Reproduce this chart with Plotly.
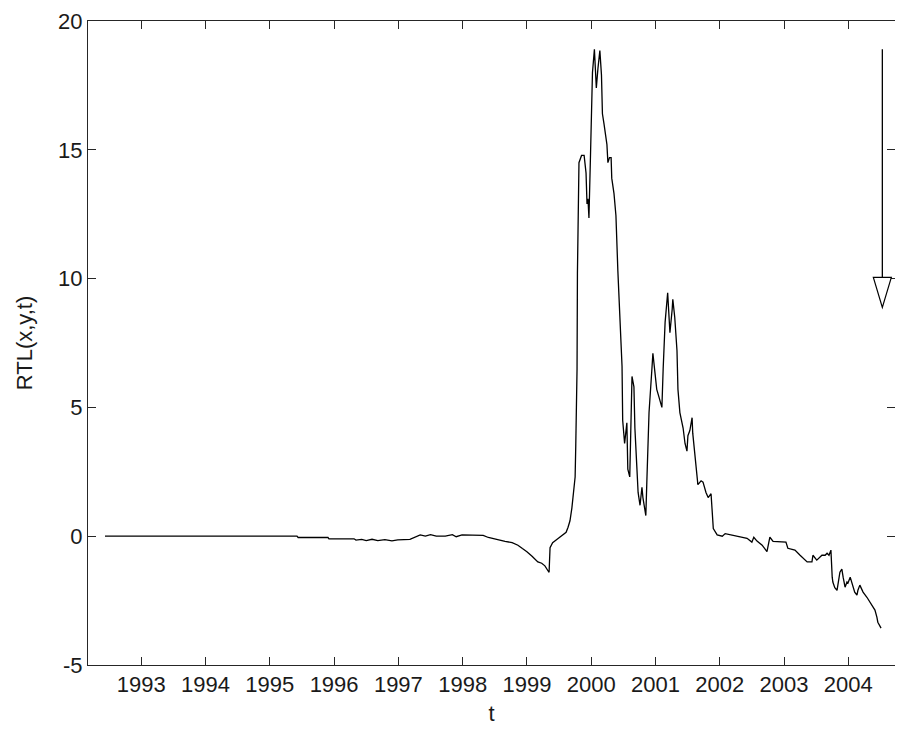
import plotly.graph_objects as go

# time (decimal years) and RTL values
t = [1992.435, 1993.916, 1995.423, 1995.44, 1995.905, 1995.92, 1996.31, 1996.34, 1996.43, 1996.50,
     1996.59, 1996.68, 1996.79, 1996.90, 1996.99, 1997.18, 1997.26, 1997.34, 1997.42, 1997.50,
     1997.59, 1997.73, 1997.84, 1997.90, 1997.99, 1998.12, 1998.32, 1998.40, 1998.51, 1998.58,
     1998.66, 1998.77, 1998.86, 1998.93, 1999.00, 1999.08, 1999.13, 1999.17, 1999.23, 1999.28,
     1999.33, 1999.345, 1999.36, 1999.40, 1999.48, 1999.56, 1999.61, 1999.64, 1999.67, 1999.70,
     1999.725, 1999.75, 1999.76, 1999.78, 1999.786, 1999.81, 1999.85, 1999.89, 1999.92, 1999.935,
     1999.95, 1999.965, 1999.99, 2000.02, 2000.05, 2000.08, 2000.105, 2000.135, 2000.16, 2000.175,
     2000.20, 2000.22, 2000.245, 2000.26, 2000.285, 2000.31, 2000.32, 2000.355, 2000.385, 2000.415,
     2000.445, 2000.48, 2000.49, 2000.52, 2000.555, 2000.57, 2000.60, 2000.635, 2000.665, 2000.68,
     2000.71, 2000.73, 2000.76, 2000.79, 2000.805, 2000.85, 2000.867, 2000.90, 2000.945, 2000.96,
     2000.99, 2001.02, 2001.055, 2001.10, 2001.12, 2001.15, 2001.19, 2001.21, 2001.225, 2001.26,
     2001.27, 2001.30, 2001.335, 2001.35, 2001.38, 2001.43, 2001.46, 2001.49, 2001.505, 2001.535,
     2001.57, 2001.58, 2001.615, 2001.645, 2001.66, 2001.71, 2001.74, 2001.786, 2001.82, 2001.865,
     2001.88, 2001.90, 2001.96, 2002.04, 2002.085, 2002.21, 2002.27, 2002.425, 2002.50, 2002.53,
     2002.58, 2002.66, 2002.735, 2002.78, 2002.83, 2002.94, 2003.03, 2003.06, 2003.17, 2003.25,
     2003.36, 2003.435, 2003.45, 2003.51, 2003.56, 2003.59, 2003.64, 2003.67, 2003.70, 2003.73,
     2003.75, 2003.76, 2003.79, 2003.825, 2003.87, 2003.90, 2003.92, 2003.95, 2003.98, 2003.995,
     2004.03, 2004.06, 2004.07, 2004.10, 2004.135, 2004.15, 2004.18, 2004.23, 2004.29, 2004.34,
     2004.38, 2004.415, 2004.445, 2004.46, 2004.51]

rtl = [0.0, 0.0, 0.0, -0.05, -0.05, -0.1, -0.1, -0.15, -0.12, -0.17,
       -0.12, -0.17, -0.13, -0.18, -0.14, -0.12, -0.02, 0.05, 0.0, 0.06,
       0.0, 0.0, 0.06, -0.02, 0.05, 0.05, 0.03, -0.05, -0.12, -0.15,
       -0.2, -0.25, -0.35, -0.48, -0.6, -0.78, -0.9, -1.0, -1.05, -1.15,
       -1.35, -1.4, -0.45, -0.25, -0.1, 0.05, 0.15, 0.35, 0.6, 1.1,
       1.6, 2.3, 3.5, 6.5, 10.2, 14.5, 14.78, 14.78, 14.1, 12.9,
       13.1, 12.35, 14.86, 18.0, 18.9, 17.4, 18.15, 18.85, 17.9, 16.4,
       16.0, 15.6, 15.2, 14.5, 14.7, 14.7, 13.9, 13.3, 12.45, 10.3,
       8.5, 6.6, 4.5, 3.6, 4.4, 2.6, 2.3, 6.2, 5.8, 4.2,
       2.7, 1.7, 1.2, 1.9, 1.5, 0.8, 2.2, 4.8, 6.5, 7.1,
       6.4, 5.7, 5.4, 5.0, 6.5, 8.3, 9.45, 8.3, 7.9, 8.8,
       9.2, 8.5, 7.2, 5.7, 4.8, 4.2, 3.6, 3.3, 3.9, 4.1,
       4.6, 4.0, 3.1, 2.4, 2.0, 2.15, 2.1, 1.7, 1.5, 1.65,
       1.0, 0.3, 0.05, 0.0, 0.1, 0.03, 0.0, -0.08, -0.23, -0.04,
       -0.19, -0.35, -0.6, -0.04, -0.2, -0.23, -0.23, -0.47, -0.54, -0.74,
       -1.0, -1.0, -0.74, -0.93, -0.8, -0.74, -0.74, -0.66, -0.74, -0.54,
       -1.59, -1.78, -2.0, -2.1, -1.4, -1.28, -1.59, -1.98, -1.78, -1.82,
       -1.59, -1.82, -1.98, -2.17, -2.29, -2.1, -1.9, -2.17, -2.37, -2.56,
       -2.75, -2.87, -3.14, -3.34, -3.57]

year_ticks = [1993, 1994, 1995, 1996, 1997, 1998, 1999, 2000, 2001, 2002, 2003, 2004]
y_ticks = [-5, 0, 5, 10, 15, 20]
y_tick_text = ["-5", "0", "5", "10", "15", "20"]

# arrow annotation (time, shaft top, head base, head tip, head half-width in years)
arrow_t = 2004.53
arrow_top = 18.9
arrow_base = 10.05
arrow_tip = 8.88
arrow_half = 0.14

x_range = [1992.171, 2004.727]
y_range = [-5, 20]

font_family = "Liberation Sans, Arial, sans-serif"
font_size = 22
ink = "#262626"

fig = go.Figure()
fig.add_trace(go.Scatter(x=t, y=rtl, mode="lines",
                         line=dict(color="black", width=1.3),
                         showlegend=False, hoverinfo="skip"))
# empty trace so the right-hand tick axis is drawn
fig.add_trace(go.Scatter(x=[], y=[], yaxis="y2", showlegend=False, hoverinfo="skip"))

fig.add_shape(type="line", xref="x", yref="y",
              x0=arrow_t, x1=arrow_t, y0=arrow_top, y1=arrow_base,
              line=dict(color="black", width=1.3))
fig.add_shape(type="path", xref="x", yref="y",
              path=f"M {arrow_t - arrow_half} {arrow_base} L {arrow_t + arrow_half} {arrow_base} "
                   f"L {arrow_t} {arrow_tip} Z",
              line=dict(color="black", width=1.2), fillcolor="white")

tickfont = dict(family=font_family, size=font_size, color="#1a1a1a")

fig.update_layout(
    xaxis=dict(range=x_range, tickvals=year_ticks, ticktext=[str(y) for y in year_ticks],
               showgrid=False, zeroline=False, showline=True, linecolor=ink, linewidth=1,
               ticks="inside", ticklen=8, tickwidth=1, tickcolor=ink, mirror="ticks",
               automargin=False, tickfont=tickfont,
               title=dict(text="t", font=tickfont, standoff=18)),
    yaxis=dict(range=y_range, tickvals=y_ticks, ticktext=y_tick_text,
               showgrid=False, zeroline=False, showline=True, linecolor=ink, linewidth=1,
               ticks="inside", ticklen=8, tickwidth=1, tickcolor=ink, mirror=False,
               automargin=False, tickfont=tickfont,
               title=dict(text="RTL(x,y,t)", font=tickfont, standoff=19)),
    yaxis2=dict(range=y_range, tickvals=y_ticks, overlaying="y", side="right",
                showgrid=False, zeroline=False, showline=False, showticklabels=False,
                ticks="inside", ticklen=8, tickwidth=1, tickcolor=ink, automargin=False),
    width=887, height=718, margin=dict(l=80, r=0, t=13, b=61),
    plot_bgcolor="white", paper_bgcolor="white")

fig.write_html("out.html")
